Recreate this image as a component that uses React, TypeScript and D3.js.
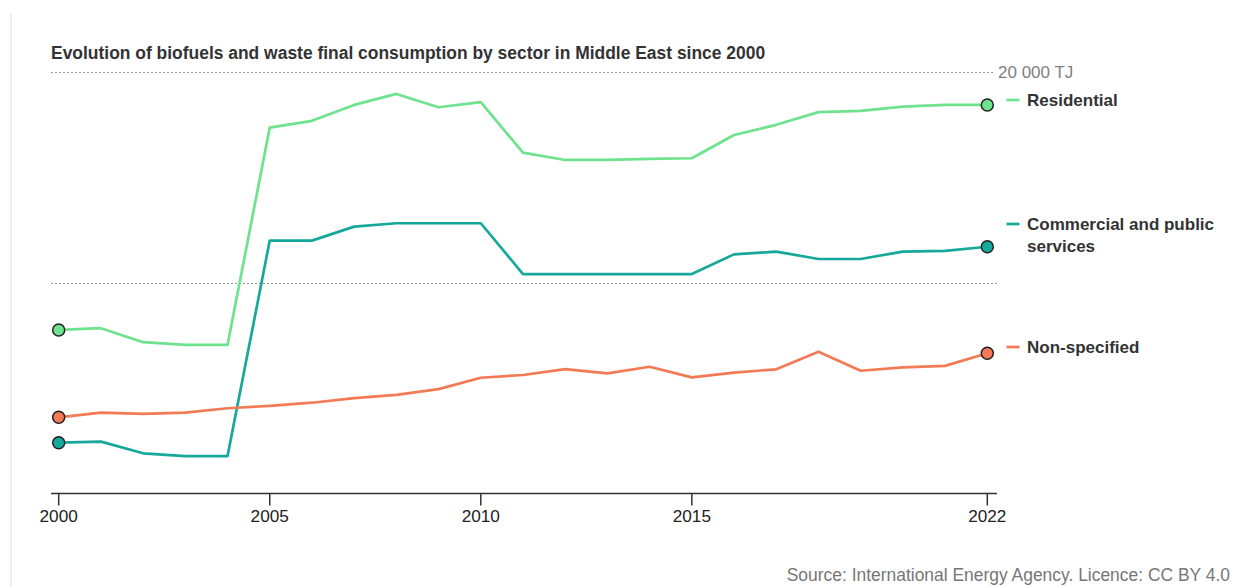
import React from "react";
import * as d3 from "d3";

const years: number[] = d3.range(2000, 2023);
const residential: number[] = [7800, 7880, 7220, 7090, 7090, 17360, 17680, 18430, 18950, 18320, 18560, 16180, 15830, 15830, 15880, 15910, 17010, 17490, 18090, 18150, 18350, 18430, 18430];
const commercial: number[] = [2470, 2520, 1970, 1840, 1840, 12020, 12020, 12680, 12840, 12840, 12840, 10440, 10440, 10440, 10440, 10440, 11370, 11500, 11150, 11150, 11500, 11530, 11730];
const nonSpecified: number[] = [3670, 3890, 3830, 3890, 4100, 4210, 4360, 4580, 4730, 5000, 5540, 5670, 5950, 5750, 6060, 5560, 5780, 5940, 6770, 5870, 6030, 6100, 6700];
const xTicks: number[] = [2000, 2005, 2010, 2015, 2022];
const gridValues: number[] = [10000, 20000];
const title = "Evolution of biofuels and waste final consumption by sector in Middle East since 2000";
const source = "Source: International Energy Agency. Licence: CC BY 4.0";

const seriesList = [
  { name: ["Residential"], values: residential, color: "#6ee28c", labelY: 100 },
  { name: ["Commercial and public", "services"], values: commercial, color: "#16a89b", labelY: 224 },
  { name: ["Non-specified"], values: nonSpecified, color: "#f27a55", labelY: 347 },
];

const W = 1244;
const H = 586;
const FONT = "'Liberation Sans', Arial, Helvetica, sans-serif";

export default function App() {
  const x = d3.scaleLinear().domain([2000, 2022]).range([58.7, 987.3]);
  const y = d3.scaleLinear().domain([0, 20000]).range([495, 71.7]);
  const axisY = 493.5;
  const plotLeft = 51;
  const plotRight = 997;
  const line = d3
    .line<number>()
    .x((_, i) => x(years[i]))
    .y((v) => y(v));

  return (
    <svg
      width={W}
      height={H}
      style={{ position: "absolute", left: 0, top: 0, background: "#fff" }}
      fontFamily={FONT}
    >
      <rect x={0} y={0} width={W} height={H} fill="#fff" />
      <line x1={11} x2={11} y1={14} y2={H} stroke="#dcdcdc" strokeWidth={1} />
      <text x={51} y={59} fontSize={17.45} fontWeight="bold" fill="#333">
        {title}
      </text>
      {gridValues.map((g) => (
        <line
          key={g}
          x1={plotLeft}
          x2={g === 20000 ? 993 : plotRight}
          y1={Math.round(y(g)) + 0.5}
          y2={Math.round(y(g)) + 0.5}
          stroke="#9a9a9a"
          strokeWidth={1}
          strokeDasharray="2,2"
        />
      ))}
      <text x={998} y={72} dominantBaseline="central" fontSize={17} fill="#808080">
        20 000 TJ
      </text>
      <line x1={plotLeft} x2={plotRight} y1={axisY} y2={axisY} stroke="#333" strokeWidth={1.5} />
      {xTicks.map((t) => (
        <g key={t}>
          <line x1={x(t)} x2={x(t)} y1={axisY} y2={axisY + 12} stroke="#333" strokeWidth={1.5} />
          <text x={x(t)} y={521.5} textAnchor="middle" fontSize={17.2} fill="#222">
            {t}
          </text>
        </g>
      ))}
      {seriesList.map((s) => (
        <path
          key={s.name[0]}
          d={line(s.values) || ""}
          fill="none"
          stroke={s.color}
          strokeWidth={2.7}
          strokeLinejoin="round"
        />
      ))}
      {seriesList.map((s) => (
        <g key={s.name[0] + "dots"}>
          <circle cx={x(2000)} cy={y(s.values[0])} r={6} fill={s.color} stroke="#222" strokeWidth={1.5} />
          <circle
            cx={x(2022)}
            cy={y(s.values[s.values.length - 1])}
            r={6}
            fill={s.color}
            stroke="#222"
            strokeWidth={1.5}
          />
        </g>
      ))}
      {seriesList.map((s) => (
        <g key={s.name[0] + "legend"}>
          <line x1={1006.5} x2={1019.5} y1={s.labelY} y2={s.labelY} stroke={s.color} strokeWidth={2.7} />
          {s.name.map((n, i) => (
            <text
              key={n}
              x={1027}
              y={s.labelY + i * 22}
              dominantBaseline="central"
              fontSize={17}
              fontWeight="bold"
              fill="#333"
            >
              {n}
            </text>
          ))}
        </g>
      ))}
      <text x={1230} y={575} dominantBaseline="central" textAnchor="end" fontSize={17.45} fill="#777">
        {source}
      </text>
    </svg>
  );
}
